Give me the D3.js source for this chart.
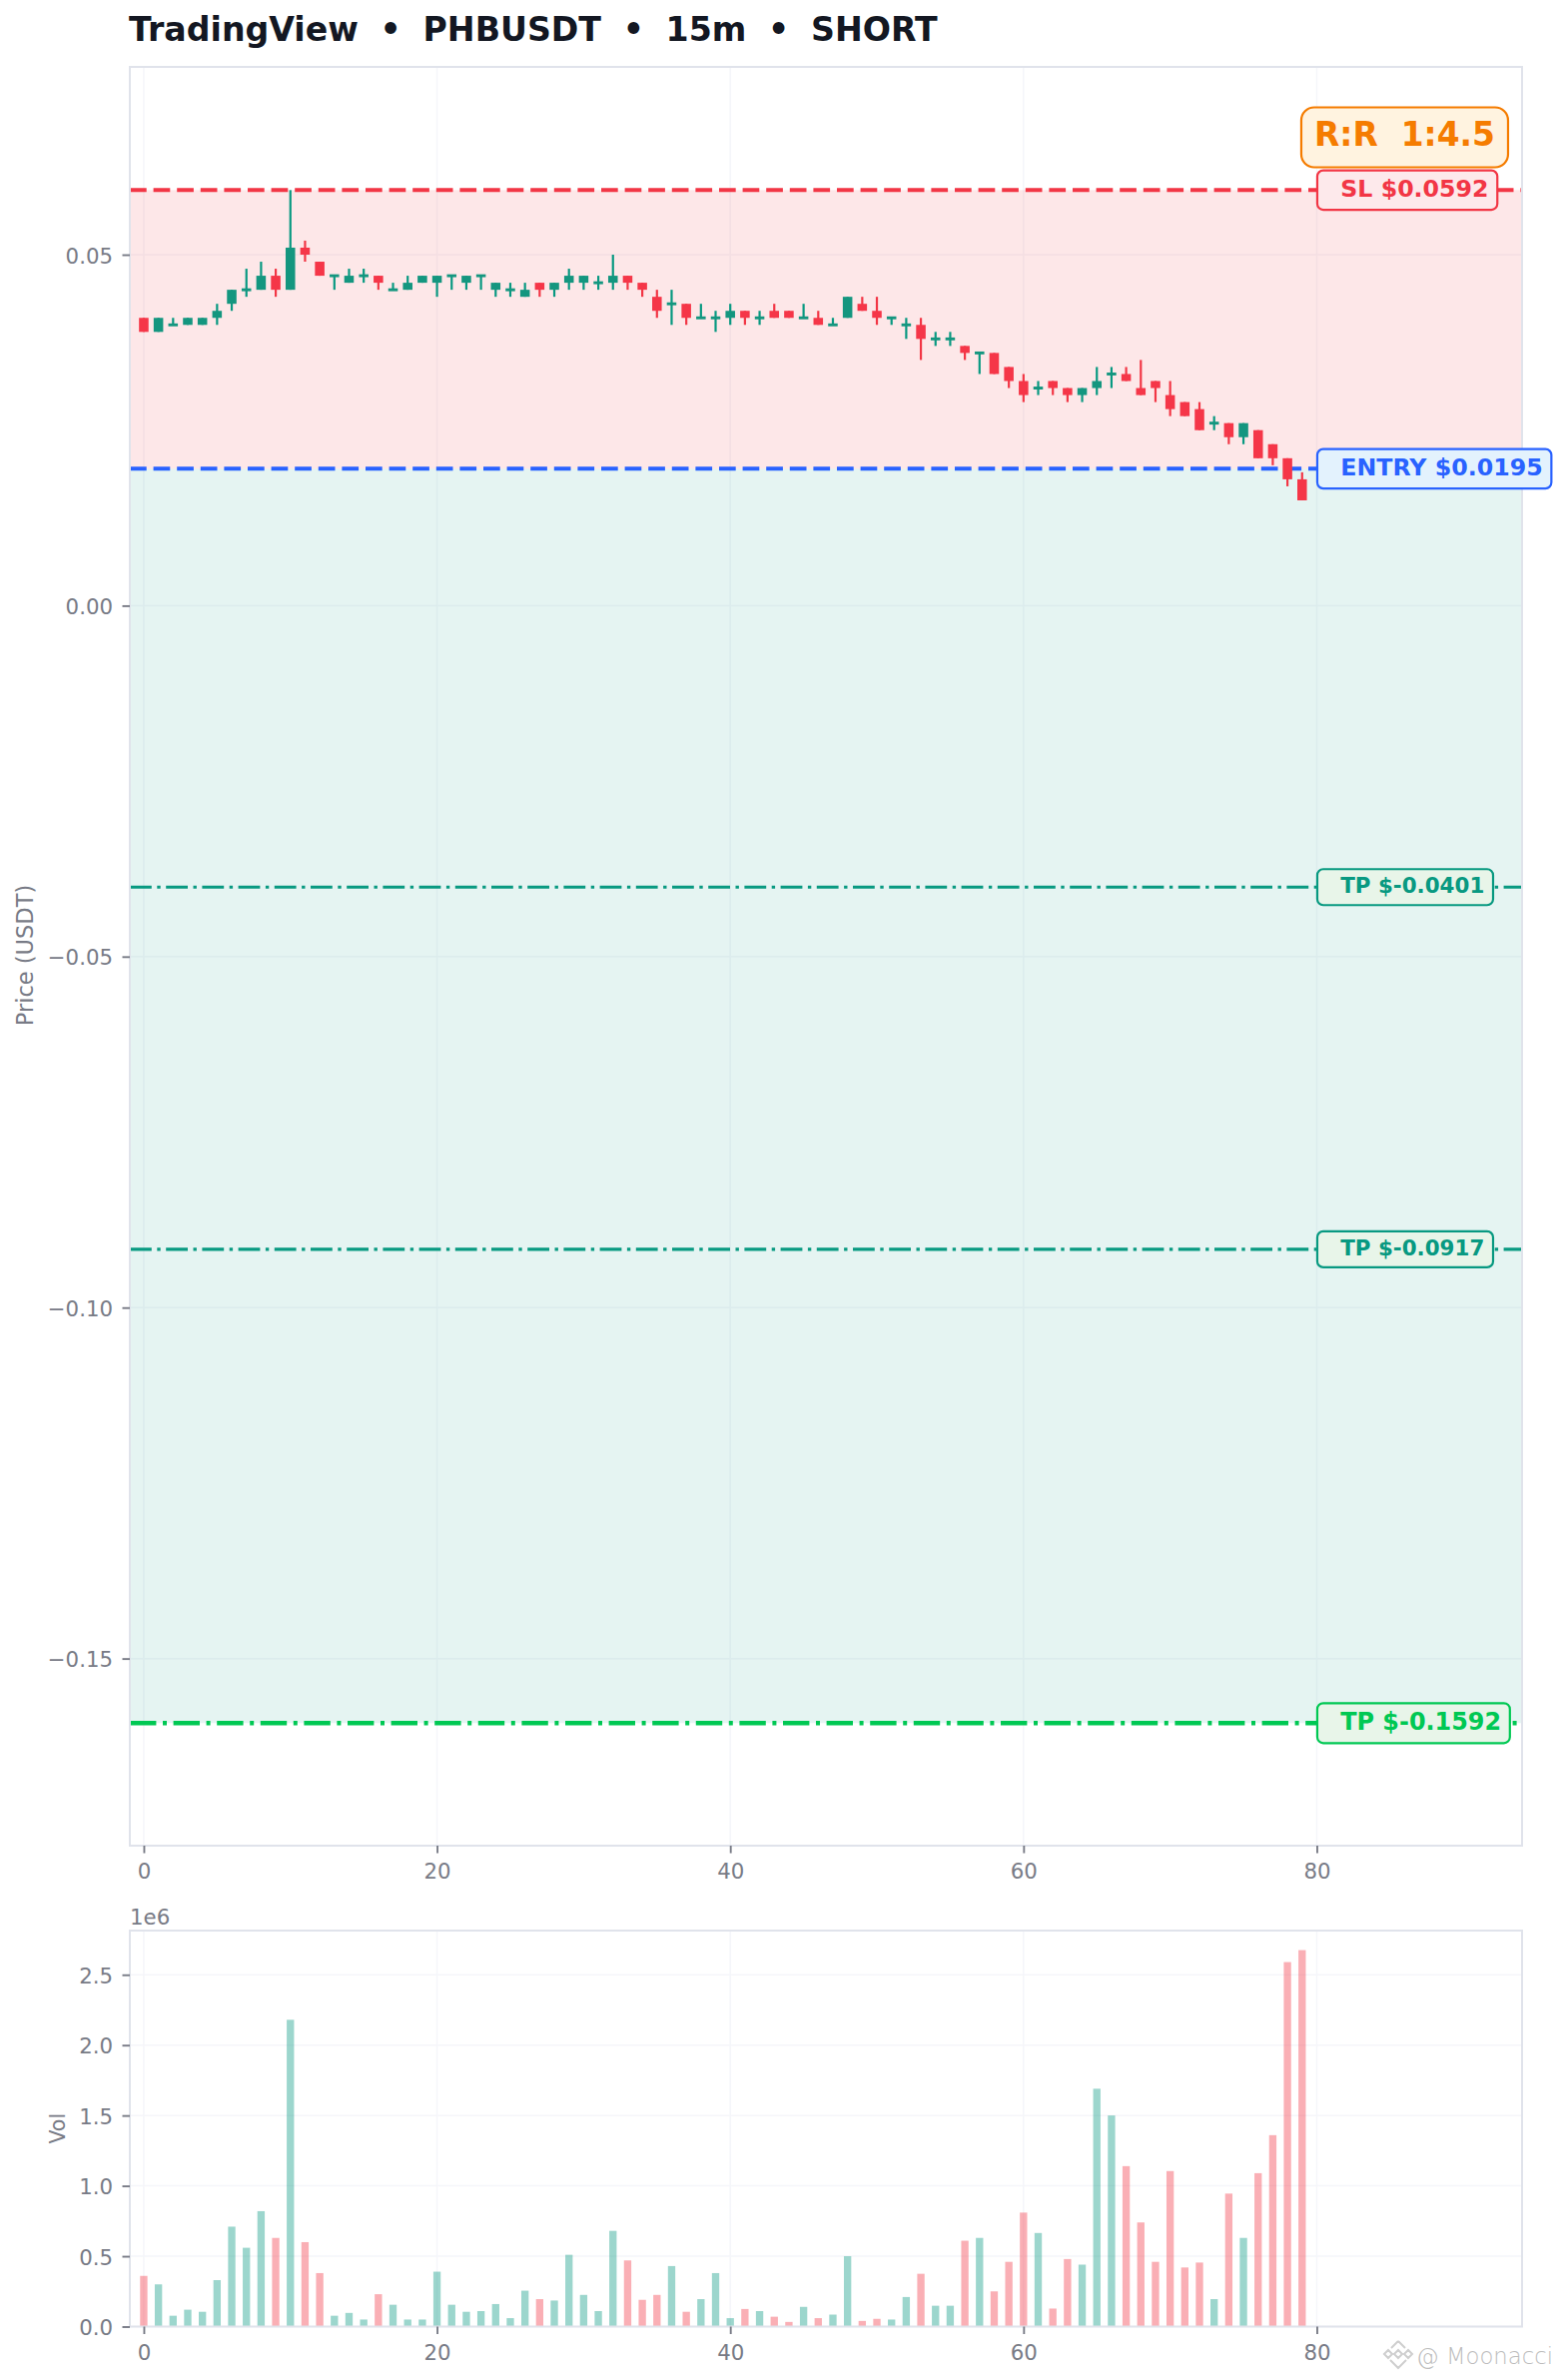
<!DOCTYPE html>
<html>
<head>
<meta charset="utf-8">
<script src="https://cdn.jsdelivr.net/npm/d3@7/dist/d3.min.js"></script>
<style>
html,body{margin:0;padding:0;background:#fff;}
svg{display:block;}
text{font-family:"DejaVu Sans",sans-serif;white-space:pre;}
</style>
</head>
<body>
<div id="chart"></div>
<script>
const titleText = "TradingView  •  PHBUSDT  •  15m  •  SHORT";
const opens  = [.041,.039,.040,.040,.040,.041,.043,.045,.045,.047,.045,.051,.049,.047,.046,.047,.047,.045,.045,.046,.046,.047,.046,.047,.045,.045,.044,.046,.045,.046,.046,.046,.046,.047,.046,.044,.043,.043,.041,.041,.041,.042,.041,.042,.042,.041,.041,.040,.041,.043,.042,.041,.040,.040,.038,.038,.037,.036,.036,.034,.032,.031,.032,.031,.030,.031,.033,.033,.031,.032,.030,.029,.028,.026,.026,.024,.025,.023,.021,.018];
const closes = [.039,.041,.040,.041,.041,.042,.045,.045,.047,.045,.051,.050,.047,.047,.047,.047,.046,.045,.046,.047,.047,.047,.047,.047,.046,.045,.045,.045,.046,.047,.047,.046,.047,.046,.045,.042,.043,.041,.041,.041,.042,.041,.041,.041,.041,.041,.040,.040,.044,.042,.041,.041,.040,.038,.038,.038,.036,.036,.033,.032,.030,.031,.031,.030,.031,.032,.033,.032,.030,.031,.028,.027,.025,.026,.024,.026,.021,.021,.018,.015];
const highs  = [.041,.041,.041,.041,.041,.043,.045,.048,.049,.048,.0592,.052,.049,.047,.048,.048,.047,.046,.047,.047,.047,.047,.047,.047,.046,.046,.046,.046,.046,.048,.047,.047,.050,.047,.046,.045,.045,.043,.043,.042,.043,.042,.042,.043,.042,.043,.042,.041,.044,.044,.044,.041,.041,.041,.039,.039,.037,.036,.036,.034,.033,.032,.032,.031,.031,.034,.034,.034,.035,.032,.032,.029,.029,.027,.026,.026,.025,.023,.021,.019];
const lows   = [.039,.039,.040,.040,.040,.040,.042,.044,.045,.044,.045,.049,.047,.045,.046,.046,.045,.045,.045,.046,.044,.045,.045,.045,.044,.044,.044,.044,.044,.045,.045,.045,.045,.045,.044,.041,.040,.040,.041,.039,.040,.040,.040,.041,.041,.041,.040,.040,.041,.042,.040,.040,.038,.035,.037,.037,.035,.033,.033,.031,.029,.030,.030,.029,.029,.030,.031,.032,.030,.029,.027,.027,.025,.025,.023,.023,.021,.020,.017,.015];
const volumes = [.36,.30,.077,.12,.105,.33,.71,.56,.82,.63,2.18,.60,.38,.077,.097,.05,.23,.155,.05,.05,.39,.155,.105,.11,.16,.06,.255,.195,.185,.51,.225,.11,.68,.47,.19,.225,.43,.105,.195,.38,.06,.125,.11,.07,.033,.14,.06,.085,.50,.04,.055,.05,.21,.375,.148,.148,.61,.63,.25,.46,.81,.665,.128,.48,.44,1.69,1.50,1.14,.74,.46,1.105,.42,.455,.195,.945,.63,1.09,1.36,2.59,2.675].map(v => v * 1e6);
const priceTicks = [0.05, 0, -0.05, -0.10, -0.15];
const volTicks = [0, 0.5e6, 1e6, 1.5e6, 2e6, 2.5e6];
const xTicks = [0, 20, 40, 60, 80];
const entry = 0.0195, stop = 0.0592;
const targets = [-0.0401, -0.0917, -0.1592];
const rrText = "R:R  1:4.5";

const RED = "#f23645", GREEN = "#089981", BLUE = "#2962ff", LIME = "#00c853", ORANGE = "#f57c00";
const GREY = "#787b86", SPINE = "#e0e3eb", GRIDC = "#f5f6fa", INK = "#131722";

const W = 1562, H = 2383;
const L = 130, R = 1524;
const mainTop = 67, mainBot = 1848, volTop = 1933, volBot = 2329.5;
const tickFont = 21.3;

const svg = d3.select("#chart").append("svg").attr("width", W).attr("height", H).attr("viewBox", `0 0 ${W} ${H}`);
const x = d3.scaleLinear().domain([-0.95, 94]).range([L, R]);
const y = d3.scaleLinear().domain([-0.17666, 0.07675]).range([mainBot, mainTop]);
const yv = d3.scaleLinear().domain([0, 2.814e6]).range([volBot, volTop]);

svg.append("text").attr("x", L - 1).attr("y", 41)
  .attr("font-size", 33.2).attr("font-weight", 700).attr("fill", INK)
  .attr("word-spacing", -0.7).text(titleText);

const defs = svg.append("defs");
defs.append("clipPath").attr("id", "mainClip").append("rect")
  .attr("x", L).attr("y", mainTop).attr("width", R - L).attr("height", mainBot - mainTop);

function grid(top, bot, xs, ys, yScale) {
  const g = svg.append("g").attr("stroke", GRIDC).attr("stroke-width", 1.5);
  g.selectAll(".gx").data(xs).join("line")
    .attr("x1", d => x(d)).attr("x2", d => x(d)).attr("y1", top).attr("y2", bot);
  g.selectAll(".gy").data(ys).join("line")
    .attr("y1", d => yScale(d)).attr("y2", d => yScale(d)).attr("x1", L).attr("x2", R);
}
grid(mainTop, mainBot, xTicks, priceTicks, y);
grid(volTop, volBot, xTicks, volTicks, yv);

// zones
const lowest = d3.min(targets);
svg.append("rect").attr("x", L).attr("width", R - L)
  .attr("y", y(stop)).attr("height", y(entry) - y(stop))
  .attr("fill", RED).attr("fill-opacity", 0.12);
svg.append("rect").attr("x", L).attr("width", R - L)
  .attr("y", y(entry)).attr("height", y(lowest) - y(entry))
  .attr("fill", GREEN).attr("fill-opacity", 0.105);

// levels
const levels = svg.append("g").attr("clip-path", "url(#mainClip)");
function level(v, color, w, dash) {
  levels.append("line").attr("x1", L).attr("x2", R).attr("y1", y(v)).attr("y2", y(v))
    .attr("stroke", color).attr("stroke-width", w).attr("stroke-dasharray", dash);
}
level(stop, RED, 4, "16.7 6.9");
level(entry, BLUE, 4, "16.7 6.9");
level(targets[0], GREEN, 3.1, "21.8 5.5 3.4 5.5");
level(targets[1], GREEN, 3.1, "21.8 5.5 3.4 5.5");
level(targets[2], LIME, 4.4, "26.4 6.6 4 6.6");

// candles
const idx = d3.range(opens.length);
const colorOf = i => closes[i] < opens[i] ? RED : GREEN;
const bodyW = x(0.65) - x(0);
const candles = svg.append("g");
candles.selectAll(".wick").data(idx).join("line")
  .attr("x1", i => x(i)).attr("x2", i => x(i))
  .attr("y1", i => y(highs[i])).attr("y2", i => y(lows[i]))
  .attr("stroke", colorOf).attr("stroke-width", 2.2);
candles.selectAll(".body").data(idx).join("rect")
  .attr("x", i => x(i) - bodyW / 2).attr("width", bodyW)
  .attr("y", i => {
    const t = y(Math.max(opens[i], closes[i])), b = y(Math.min(opens[i], closes[i]));
    return b - t < 2.9 ? (t + b) / 2 - 1.45 : t;
  })
  .attr("height", i => Math.max(2.9, y(Math.min(opens[i], closes[i])) - y(Math.max(opens[i], closes[i]))))
  .attr("fill", i => colorOf(i) === GREEN ? "#14967f" : "#f53648");

// volume
const barW = x(0.5) - x(0);
svg.append("g").selectAll("rect").data(idx).join("rect")
  .attr("x", i => x(i) - barW / 2).attr("width", barW)
  .attr("y", i => yv(volumes[i])).attr("height", i => yv(0) - yv(volumes[i]))
  .attr("fill", colorOf).attr("fill-opacity", 0.4);

// spines
function spine(top, bot) {
  svg.append("rect").attr("x", L).attr("y", top).attr("width", R - L).attr("height", bot - top)
    .attr("fill", "none").attr("stroke", SPINE).attr("stroke-width", 2);
}
spine(mainTop, mainBot);
spine(volTop, volBot);

// axes
function styleAxis(g) {
  g.select(".domain").remove();
  g.selectAll(".tick line").attr("stroke", GREY).attr("stroke-width", 1.9);
  g.selectAll(".tick text").attr("fill", GREY).attr("font-size", tickFont)
    .attr("font-family", '"DejaVu Sans",sans-serif');
}
const fmtP = d => d3.format(".2f")(Math.abs(d)).replace(/^/, d < 0 ? "\u2212" : "");
function yAxis(scale, ticks, f) {
  const g = svg.append("g").attr("transform", `translate(${L},0)`)
    .call(d3.axisLeft(scale).tickValues(ticks).tickFormat(f).tickSize(7.5).tickPadding(9.5));
  styleAxis(g);
  g.selectAll(".tick text").attr("dy", "0.38em");
}
function xAxis(at) {
  const g = svg.append("g").attr("transform", `translate(0,${at})`)
    .call(d3.axisBottom(x).tickValues(xTicks).tickFormat(d3.format("d")).tickSize(7.5).tickPadding(10.7));
  styleAxis(g);
}
yAxis(y, priceTicks, fmtP);
yAxis(yv, volTicks, d => (d / 1e6).toFixed(1));
xAxis(mainBot);
xAxis(volBot);

svg.append("text").attr("x", L).attr("y", 1926.7).attr("font-size", tickFont).attr("fill", GREY).text("1e6");
svg.append("text").attr("transform", `translate(33,${(mainTop + mainBot) / 2 - 1}) rotate(-90)`)
  .attr("text-anchor", "middle").attr("font-size", 22.5).attr("fill", GREY).text("Price (USDT)");
svg.append("text").attr("transform", `translate(65,${(volTop + volBot) / 2}) rotate(-90)`)
  .attr("text-anchor", "middle").attr("font-size", 20.5).attr("fill", GREY).text("Vol");

// tags
function tag(v, label, color, fill, size, h) {
  const g = svg.append("g");
  const box = g.append("rect");
  const t = g.append("text").attr("x", x(80) + 23.8).attr("y", y(v) + size * 0.27)
    .attr("font-size", size).attr("font-weight", 700).attr("fill", color).text(label);
  const tw = t.node().getComputedTextLength();
  box.attr("x", x(80) + 0.5).attr("y", y(v) - h / 2).attr("width", 24 + tw + 8).attr("height", h)
    .attr("rx", 6).attr("fill", fill).attr("stroke", color).attr("stroke-width", 2.2);
}
tag(stop, "SL $" + stop.toFixed(4), RED, "#fde9eb", 23.7, 39.5);
tag(entry, "ENTRY $" + entry.toFixed(4), BLUE, "#e3f2fd", 23.7, 39.5);
tag(targets[0], "TP $" + targets[0].toFixed(4), GREEN, "#e8f5e9", 21.4, 36);
tag(targets[1], "TP $" + targets[1].toFixed(4), GREEN, "#e8f5e9", 21.4, 36);
tag(targets[2], "TP $" + targets[2].toFixed(4), LIME, "#e8f5e9", 23.9, 40);

// risk:reward badge
const rrG = svg.append("g");
const rrBox = rrG.append("rect");
const rrT = rrG.append("text").attr("x", x(80) - 2.5).attr("y", 145.7)
  .attr("font-size", 32.9).attr("font-weight", 700).attr("fill", ORANGE).text(rrText);
rrBox.attr("x", x(80) - 15.5).attr("y", 107.5)
  .attr("width", rrT.node().getComputedTextLength() + 26).attr("height", 60)
  .attr("rx", 13).attr("fill", "#fff3e0").attr("stroke", ORANGE).attr("stroke-width", 2.2);

// watermark
const wm = svg.append("g");
const mark = wm.append("g").attr("transform", "translate(1400,2357)")
  .attr("fill", "none").attr("stroke", "#cfcfcf").attr("stroke-width", 2);
mark.append("path").attr("d", "M0,-13 L7,-6 M0,-13 L-7,-6 M-14,0 L-10,-4 L-6,0 L-10,4 Z M14,0 L10,-4 L6,0 L10,4 Z M-4,0 L0,-4 L4,0 L0,4 Z M-8,6 L0,14 L8,6");
wm.append("text").attr("x", 1418).attr("y", 2367)
  .attr("font-family", '"Open Sans",sans-serif').attr("font-weight", 300)
  .attr("font-size", 23).attr("textLength", 137).attr("lengthAdjust", "spacingAndGlyphs")
  .attr("fill", "#bdbdbd").text("@ Moonacci");
</script>
</body>
</html>
